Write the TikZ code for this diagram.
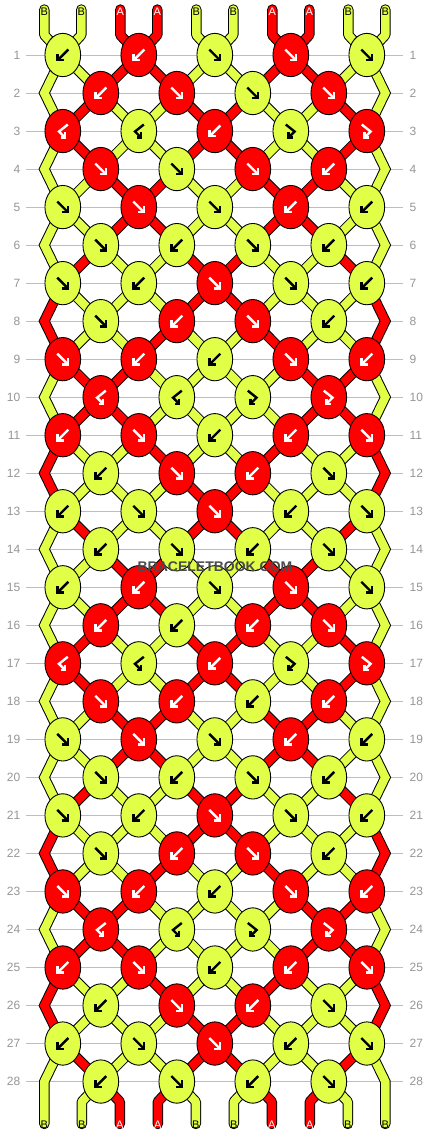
\documentclass[tikz,border=0pt]{standalone}
\usepackage{fontspec}
\setmainfont{Liberation Sans}
\usetikzlibrary{shapes.geometric}
\definecolor{colB}{RGB}{226,255,72}
\definecolor{colA}{RGB}{255,0,0}
\definecolor{arrB}{RGB}{0,0,0}
\definecolor{arrA}{RGB}{255,255,255}
\definecolor{rowline}{RGB}{190,190,190}
\definecolor{numgray}{RGB}{150,150,150}
\definecolor{wmgray}{RGB}{75,75,75}
\pgfdeclarelayer{bg}
\pgfsetlayers{bg,main}
\tikzset{
 knot/.style={ellipse, draw=black, line width=0.9pt, minimum width=35.7pt, minimum height=43.3pt, inner sep=0pt},
 glyphline/.style={line width=2.4pt, line cap=butt, line join=miter},
 rownum/.style={text=numgray, font=\fontsize{12}{12}\selectfont, inner sep=0pt},
 endlabel/.style={font=\fontsize{11}{11}\selectfont, inner sep=0pt},
 wmtext/.style={font=\fontsize{14}{14}\selectfont\bfseries, inner sep=0pt},
}
\newcommand\band[3][]{\draw[line width=10.4pt, black, #1] #3; \draw[line width=8.4pt, col#2, #1] #3;}
\newcommand\glyphf[2]{\begin{scope}[shift={(#1.center)}, glyphline, color=#2]
 \draw (-5.5,-5.5) -- (4.4,4.4); \draw (5.2,-1.2) -- (5.2,5.2) -- (-1.2,5.2); \end{scope}}
\newcommand\glyphb[2]{\begin{scope}[shift={(#1.center)}, glyphline, color=#2]
 \draw (5.5,-5.5) -- (-4.4,4.4); \draw (-5.2,-1.2) -- (-5.2,5.2) -- (1.2,5.2); \end{scope}}
\newcommand\glyphbf[2]{\begin{scope}[shift={(#1.center)}, glyphline, color=#2]
 \draw (5,-6.5) -- (-3.8,0.5) -- (1.4,5.7); \draw (2.4,1.4) -- (2.4,6.6) -- (-2.2,6.6); \end{scope}}
\newcommand\glyphfb[2]{\begin{scope}[shift={(#1.center)}, glyphline, color=#2]
 \draw (-5,-6.5) -- (3.8,0.5) -- (-1.4,5.7); \draw (-2.4,1.4) -- (-2.4,6.6) -- (2.2,6.6); \end{scope}}
\begin{document}
\begin{tikzpicture}[x=1pt,y=-1pt]
\useasboundingbox (0,0) rectangle (430,1136);
% knots
\foreach \rr/\ks in {
1/{b/B,b/A,f/B,f/A,f/B},
2/{b/A,f/A,f/B,f/A},
3/{bf/A,bf/B,b/A,fb/B,fb/A},
4/{f/A,f/B,f/A,b/A},
5/{f/B,f/A,f/B,b/A,b/B},
6/{f/B,b/B,f/B,b/B},
7/{f/B,b/B,f/A,f/B,b/B},
8/{f/B,b/A,f/A,b/B},
9/{f/A,b/A,b/B,f/A,b/A},
10/{bf/A,bf/B,fb/B,fb/A},
11/{b/A,f/A,b/B,b/A,f/A},
12/{b/B,f/A,b/A,f/B},
13/{b/B,f/B,f/A,b/B,f/B},
14/{b/B,f/B,b/B,f/B},
15/{b/B,b/A,f/B,f/A,f/B},
16/{b/A,b/B,b/A,f/A},
17/{bf/A,bf/B,b/A,fb/B,fb/A},
18/{f/A,b/A,b/B,b/A},
19/{f/B,f/A,f/B,b/A,b/B},
20/{f/B,b/B,f/B,b/B},
21/{f/B,b/B,f/A,f/B,b/B},
22/{f/B,b/A,f/A,b/B},
23/{f/A,b/A,b/B,f/A,b/A},
24/{bf/A,bf/B,fb/B,fb/A},
25/{b/A,f/A,b/B,b/A,f/A},
26/{b/B,f/A,b/A,f/B},
27/{b/B,f/B,f/A,b/B,f/B},
28/{b/B,f/B,b/B,f/B}} {
  \pgfmathsetmacro\yy{55+38.02*(\rr-1)}
  \foreach \ty/\kc [count=\jj] in \ks {
    \ifodd\rr\relax \pgfmathtruncatemacro\cx{2*\jj-1}\else \pgfmathtruncatemacro\cx{2*\jj}\fi
    \pgfmathsetmacro\xx{24.8+38*\cx}
    \node[knot, fill=col\kc] (k\rr-\cx) at (\xx,\yy) {};
    \csname glyph\ty\endcsname{k\rr-\cx}{arr\kc}
  }
  \ifodd\rr\relax\else
    \coordinate (L\rr) at (44.3,\yy);
    \coordinate (R\rr) at (385.3,\yy);
  \fi
}
\begin{pgfonlayer}{bg}
\fill[white] (0,0) rectangle (430,1136);
\foreach \rr in {1,...,28} {
  \pgfmathsetmacro\yy{55+38.02*(\rr-1)}
  \draw[rowline, line width=1pt] (26,\yy) -- (403,\yy);
  \node[rownum, anchor=east] (lnum\rr) at (20.5,\yy) {\rr};
  \node[rownum, anchor=west] (rnum\rr) at (409.5,\yy) {\rr};
}
\foreach \rr/\lst in {
0/{B,B,A,A,B,B,A,A,B,B},
1/{B,B,A,A,B,B,A,A,B,B},
2/{B,A,B,B,A,A,B,B,A,B},
3/{B,A,B,B,A,A,B,B,A,B},
4/{B,B,A,A,B,B,A,A,B,B},
5/{B,B,A,A,B,B,A,A,B,B},
6/{B,A,B,B,A,A,B,B,A,B},
7/{A,B,B,B,A,A,B,B,B,A},
8/{A,B,B,A,B,B,A,B,B,A},
9/{B,A,A,B,B,B,B,A,A,B},
10/{B,A,A,B,B,B,B,A,A,B},
11/{A,B,B,A,B,B,A,B,B,A},
12/{A,B,B,B,A,A,B,B,B,A},
13/{B,A,B,B,A,A,B,B,A,B},
14/{B,B,A,A,B,B,A,A,B,B},
15/{B,B,A,A,B,B,A,A,B,B},
16/{B,A,B,B,A,A,B,B,A,B},
17/{B,A,B,B,A,A,B,B,A,B},
18/{B,B,A,A,B,B,A,A,B,B},
19/{B,B,A,A,B,B,A,A,B,B},
20/{B,A,B,B,A,A,B,B,A,B},
21/{A,B,B,B,A,A,B,B,B,A},
22/{A,B,B,A,B,B,A,B,B,A},
23/{B,A,A,B,B,B,B,A,A,B},
24/{B,A,A,B,B,B,B,A,A,B},
25/{A,B,B,A,B,B,A,B,B,A},
26/{A,B,B,B,A,A,B,B,B,A},
27/{B,A,B,B,A,A,B,B,A,B},
28/{B,B,A,A,B,B,A,A,B,B}} {
  \pgfmathtruncatemacro\rnext{\rr+1}
  \pgfmathtruncatemacro\rprev{\rr-1}
  \foreach \cl [count=\pp] in \lst {
    \pgfmathtruncatemacro\isin{((\pp>1)&&(\pp<10)) ? 1 : 0}
    \ifnum\rr=0\relax
      \pgfmathtruncatemacro\cx{mod(\pp,2)==1 ? \pp : \pp-1}
      \pgfmathsetmacro\xx{24.8+38*\cx+(mod(\pp,2)==1 ? -18.5 : 18.5)}
      \coordinate (T\pp) at (\xx,9.5);
      \coordinate (TK\pp) at (\xx,35);
      \band[line cap=round, line join=round]{\cl}{(T\pp) -- (TK\pp) -- (k1-\cx.center)}
      \node[endlabel, text=arr\cl] (tl\pp) at (\xx,12) {\cl};
    \else
      \ifnum\isin=1\relax
        \ifnum\rr<28\relax
          \pgfmathtruncatemacro\ca{mod(\rr+\pp,2)==0 ? \pp : \pp-1}
          \pgfmathtruncatemacro\cb{mod(\rr+1+\pp,2)==0 ? \pp : \pp-1}
          \band{\cl}{(k\rr-\ca.center) -- (k\rnext-\cb.center)}
        \else
          \pgfmathtruncatemacro\cx{mod(\pp,2)==0 ? \pp : \pp-1}
          \pgfmathsetmacro\xx{24.8+38*\cx+(mod(\pp,2)==0 ? -19 : 19)}
          \coordinate (BK\pp) at (\xx,1101.7);
          \coordinate (Bt\pp) at (\xx,1124);
          \band[line cap=round, line join=round]{\cl}{(k28-\cx.center) -- (BK\pp) -- (Bt\pp)}
          \node[endlabel, text=arr\cl] (bl\pp) at (\xx,1124.5) {\cl};
        \fi
      \else
        \ifodd\rr\relax\else
          \ifnum\pp=1\relax \def\side{L}\def\kcol{1}\def\ex{44.3}\else \def\side{R}\def\kcol{9}\def\ex{385.3}\fi
          \ifnum\rr<28\relax
            \band[line join=miter]{\cl}{(k\rprev-\kcol.center) -- (\side\rr) -- (k\rnext-\kcol.center)}
          \else
            \coordinate (Bt\pp) at (\ex,1124);
            \band[line join=miter, line cap=round]{\cl}{(k27-\kcol.center) -- (\side28) -- (Bt\pp)}
            \node[endlabel, text=arr\cl] (bl\pp) at (\ex,1124.5) {\cl};
          \fi
        \fi
      \fi
    \fi
  }
}
\end{pgfonlayer}
% watermark
\node[wmtext, text=wmgray] (wm) at (215,567) {BRACELETBOOK.COM};
\end{tikzpicture}
\end{document}
